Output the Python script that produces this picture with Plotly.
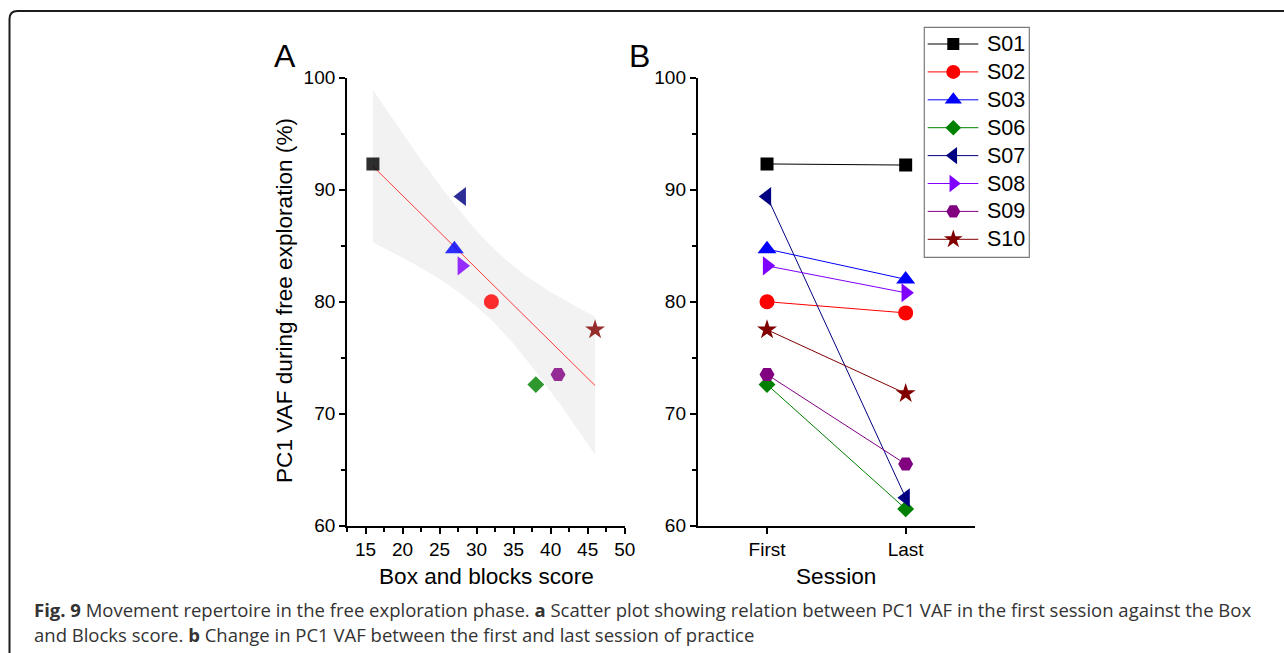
import numpy as np
import plotly.graph_objects as go

# ---- data -------------------------------------------------------------
subjects = ["S01", "S02", "S03", "S06", "S07", "S08", "S09", "S10"]
box_blocks_score = [16, 32, 27, 38, 28, 28, 41, 46]
vaf_first = [92.3, 80.0, 84.7, 72.6, 89.4, 83.2, 73.5, 77.5]
vaf_last = [92.2, 79.0, 82.0, 61.5, 62.5, 80.8, 65.5, 71.8]
sessions = ["First", "Last"]
y_ticks = [60, 70, 80, 90, 100]
x_ticks_a = [15, 20, 25, 30, 35, 40, 45, 50]

# ---- styles -----------------------------------------------------------
colors = {"S01": "#000000", "S02": "#ff0000", "S03": "#0000ff", "S06": "#008000",
          "S07": "#000080", "S08": "#8000ff", "S09": "#800080", "S10": "#800000"}
symbols = {"S01": "square", "S02": "circle", "S03": "triangle-up", "S06": "diamond",
           "S07": "triangle-left", "S08": "triangle-right", "S09": "hexagon2", "S10": "star"}
sizes = {"S01": 13, "S02": 15, "S03": 16.5, "S06": 13, "S07": 16.5, "S08": 16.5, "S09": 15, "S10": 15}
legend_sizes = {"S01": 12, "S02": 14, "S03": 15, "S06": 12, "S07": 15, "S08": 15, "S09": 14, "S10": 14}

W, H = 1284, 653
AX_FONT = "Liberation Sans, Arial, sans-serif"


def px(x):
    return x / W


def py(y):
    return 1 - y / H


fig = go.Figure()

# ---- panel A: regression with 95% confidence band ---------------------
xs = np.array(box_blocks_score, dtype=float)
ys = np.array(vaf_first, dtype=float)
n = len(xs)
slope, intercept = np.polyfit(xs, ys, 1)
resid = ys - (slope * xs + intercept)
s_err = np.sqrt(np.sum(resid ** 2) / (n - 2))
t_crit = 2.447  # two-sided 95% t critical value, df = n - 2 = 6
grid = np.linspace(xs.min(), xs.max(), 120)
fit = slope * grid + intercept
half = t_crit * s_err * np.sqrt(1 / n + (grid - xs.mean()) ** 2 / np.sum((xs - xs.mean()) ** 2))

fig.add_trace(go.Scatter(x=grid, y=fit + half, mode="lines", line=dict(width=0),
                         hoverinfo="skip", showlegend=False, xaxis="x", yaxis="y"))
fig.add_trace(go.Scatter(x=grid, y=fit - half, mode="lines", line=dict(width=0),
                         fill="tonexty", fillcolor="#f2f2f2",
                         hoverinfo="skip", showlegend=False, xaxis="x", yaxis="y"))
fig.add_trace(go.Scatter(x=grid, y=fit, mode="lines",
                         line=dict(color="rgba(255,0,0,0.75)", width=1),
                         showlegend=False, xaxis="x", yaxis="y"))

for s, bx, v in zip(subjects, box_blocks_score, vaf_first):
    fig.add_trace(go.Scatter(x=[bx], y=[v], mode="markers", name=s,
                             marker=dict(symbol=symbols[s], size=sizes[s], color=colors[s],
                                         opacity=0.82, line=dict(width=0)),
                             showlegend=False, xaxis="x", yaxis="y"))

# ---- panel B: first vs last session ----------------------------------
for s, f, l in zip(subjects, vaf_first, vaf_last):
    fig.add_trace(go.Scatter(x=sessions, y=[f, l], mode="lines+markers", name=s,
                             line=dict(color=colors[s], width=1),
                             marker=dict(symbol=symbols[s], size=sizes[s], color=colors[s],
                                         line=dict(width=0)),
                             showlegend=False, xaxis="x2", yaxis="y2"))

# ---- legend drawn on its own pixel-scaled axis ------------------------
LEG_L, LEG_R, LEG_T, LEG_B = 924.3, 1029.3, 27.3, 257.3
row_h = 27.9
annotations = []
for i, s in enumerate(subjects):
    yc = 16.7 + i * row_h
    fig.add_trace(go.Scatter(x=[3.4, 54], y=[yc, yc], mode="lines",
                             line=dict(color=colors[s], width=1),
                             hoverinfo="skip", showlegend=False, xaxis="x3", yaxis="y3"))
    fig.add_trace(go.Scatter(x=[29], y=[yc], mode="markers",
                             marker=dict(symbol=symbols[s], size=legend_sizes[s], color=colors[s],
                                         line=dict(width=0)),
                             hoverinfo="skip", showlegend=False, xaxis="x3", yaxis="y3"))
    annotations.append(dict(xref="x3", yref="y3", x=60.5, y=yc, text=s, showarrow=False,
                            xanchor="left", yanchor="middle",
                            font=dict(family=AX_FONT, size=21.5, color="#000")))

# ---- axes ---------------------------------------------------------------
ydom = [py(525.7), py(77.7)]
tick_font = dict(family=AX_FONT, size=19, color="#000")
common_y = dict(range=[60, 100], tickvals=y_ticks, ticks="outside", ticklen=6, tickwidth=1.5,
                tickcolor="#000", showline=True, linecolor="#000", linewidth=1.8,
                showgrid=False, zeroline=False, domain=ydom, tickfont=tick_font,
                minor=dict(dtick=5, ticks="outside", ticklen=4, tickwidth=1.5, tickcolor="#000",
                           showgrid=False))

fig.update_layout(
    width=W, height=H, margin=dict(l=0, r=0, t=0, b=0, autoexpand=False),
    paper_bgcolor="white", plot_bgcolor="rgba(0,0,0,0)", showlegend=False,
    xaxis=dict(domain=[px(347), px(624.7)], range=[12.5, 50], tickvals=x_ticks_a,
               ticks="outside", ticklen=6, tickwidth=1.5, tickcolor="#000",
               showline=True, linecolor="#000", linewidth=1.8, showgrid=False, zeroline=False,
               tickfont=tick_font, anchor="y",
               minor=dict(dtick=2.5, tick0=0, ticks="outside", ticklen=4, tickwidth=1.5,
                          tickcolor="#000", showgrid=False)),
    yaxis=dict(anchor="x", **common_y),
    xaxis2=dict(domain=[px(697.7), px(975)], type="category", categoryorder="array",
                categoryarray=sessions, range=[-0.5, 1.5], ticks="outside", ticklen=6,
                tickwidth=1.5, tickcolor="#000", showline=True, linecolor="#000", linewidth=1.8,
                showgrid=False, zeroline=False, anchor="y2", tickfont=tick_font),
    yaxis2=dict(anchor="x2", **common_y),
    xaxis3=dict(domain=[px(LEG_L), px(LEG_R)], range=[0, LEG_R - LEG_L], visible=False,
                anchor="y3", fixedrange=True),
    yaxis3=dict(domain=[py(LEG_B), py(LEG_T)], range=[LEG_B - LEG_T, 0], visible=False,
                anchor="x3", fixedrange=True),
)

# ---- titles, panel letters, caption -----------------------------------
titles = [
    dict(x=px(284), y=py(301), text="PC1 VAF during free exploration (%)", textangle=-90),
    dict(x=px(486), y=py(576), text="Box and blocks score"),
    dict(x=px(836), y=py(576), text="Session"),
]
for a in titles:
    a.update(xref="paper", yref="paper", showarrow=False, xanchor="center", yanchor="middle",
             font=dict(family=AX_FONT, size=22.6, color="#000"))
annotations += titles
for letter, xl in (("A", 284.5), ("B", 639)):
    annotations.append(dict(xref="paper", yref="paper", x=px(xl), y=py(56), text=letter,
                            showarrow=False, xanchor="center", yanchor="middle",
                            font=dict(family=AX_FONT, size=32, color="#000")))

CAP_FONT = "Open Sans, Noto Sans, sans-serif"
caption_lines = [
    "<b>Fig. 9</b> Movement repertoire in the free exploration phase. <b>a</b> Scatter plot "
    "showing relation between PC1 VAF in the first session against the Box",
    "and Blocks score. <b>b</b> Change in PC1 VAF between the first and last session of practice",
]
for line, yl in zip(caption_lines, (609, 634)):
    annotations.append(dict(xref="paper", yref="paper", x=px(31.5), y=py(yl), text=line,
                            showarrow=False, xanchor="left", yanchor="middle",
                            font=dict(family=CAP_FONT, size=18.5, color="#333")))
fig.update_layout(annotations=annotations)

# ---- frame and legend box --------------------------------------------
fx0, fy0, r = 9.5, 11, 8
frame = (f"M {px(fx0)},{py(H)} L {px(fx0)},{py(fy0 + r)} "
         f"Q {px(fx0)},{py(fy0)} {px(fx0 + r)},{py(fy0)} L {px(W)},{py(fy0)}")
fig.add_shape(type="path", path=frame, xref="paper", yref="paper",
              line=dict(color="#1c1c1c", width=2))
fig.add_shape(type="rect", xref="paper", yref="paper", x0=px(LEG_L), x1=px(LEG_R),
              y0=py(LEG_B), y1=py(LEG_T), line=dict(color="#7a7a7a", width=1.2))

fig.write_html("out.html")
